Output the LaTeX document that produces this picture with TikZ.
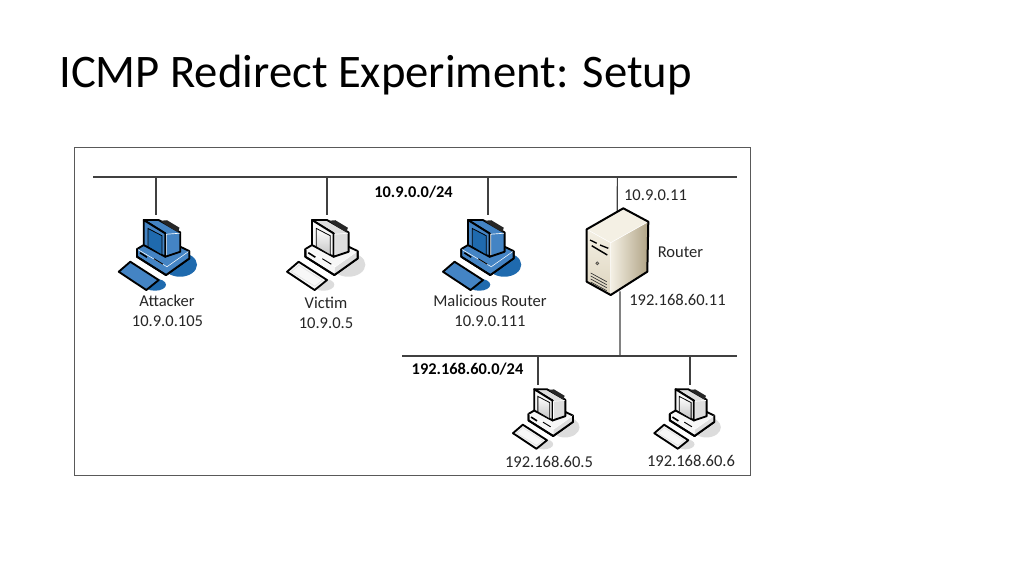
\documentclass[tikz,border=0pt]{standalone}
\usepackage{fontspec}
\setmainfont{Carlito}
\definecolor{pcblue}{HTML}{4484C4}
\definecolor{pcbluedark}{HTML}{1F6AAE}
\definecolor{pcwhite}{HTML}{F7F7F7}
\definecolor{pcgrey}{HTML}{C4C4C4}
\definecolor{pcside}{HTML}{DEDEDE}
\definecolor{pcshadow}{HTML}{DCDCDC}
\definecolor{towerlight}{HTML}{F4F0E4}
\definecolor{towermid}{HTML}{DDD4BE}
\definecolor{towerdark}{HTML}{B0A385}
\definecolor{labelgrey}{HTML}{262626}
\tikzset{
	pics/computer/.style n args={4}{code={
		\fill[#4] (24,50) ellipse [x radius=17, y radius=12];
		\fill[#4] (-1,70) ellipse [x radius=11, y radius=6];
		% base
		\draw[pcline, fill=#2] (-19,34.3) -- (-12.3,30.3) -- (24.3,32) -- (33.3,36.3) -- (33.3,43.7) -- (10,60.3) -- (-19,42) -- cycle;
		\fill[#3] (11,52) -- (33.3,36.3) -- (33.3,43.7) -- (10,60.3) -- cycle;
		\draw[thin, white] (-19,34.3) -- (11,52) -- (33.3,36.3);
		\draw[black, line width=.7pt] (-2,44) -- (7,49.5);
		\draw[black, line width=1.2pt] (-16,38) -- (-9,42.5);
		\draw[pcline] (-19,34.3) -- (-19,42) -- (10,60.3) -- (33.3,43.7) -- (33.3,36.3);
		% monitor
		\draw[pcline, fill=#3] (-12.3,5.3) -- (2.7,5.3) -- (24.3,17.7) -- (24.3,37) -- (9.3,42) -- (9.3,18.7) -- cycle;
		\fill[black!85] (4.3,6) -- (11,5.5) -- (23.5,13) -- (22,17.5) -- (12.7,12) -- cycle;
		\draw[pcline, fill=#2] (-12.3,5.3) -- (9.3,18.7) -- (9.3,42) -- (-12.3,30.3) -- cycle;
		\draw[white, line width=.5pt] (10.4,19.5) -- (10.4,40.5) (10.4,19.5) -- (23.5,18.5);
		\draw[black, line width=.6pt, #1] (-8,13.7) -- (6,21) -- (6,40.3) -- (-8,32) -- cycle;
		% keyboard
		\draw[pcline, fill=#2] (-37.3,57) -- (-25.7,47) -- (2.7,65.3) -- (-9.7,75.3) -- cycle;
		\draw[#3, line width=.4pt] (-33,57) -- (-25.5,50.5) -- (-2,65.5) -- (-9.5,71.5) -- cycle;
	}},
	pcline/.style = {line width=1.4pt, draw=black, line join=round},
	pcnode/.style = {minimum width=60pt, minimum height=57pt, inner sep=0pt},
	link/.style = {line width=.8pt, draw=black!75},
	label/.style = {text=labelgrey, font=\fontsize{12.4}{14}\selectfont, inner sep=0pt},
	netlabel/.style = {text=black, font=\fontsize{12.3}{14}\selectfont\bfseries, inner sep=0pt},
}
\begin{document}
\begin{tikzpicture}[x=.75pt,y=-.75pt]
	\useasboundingbox (0,0) rectangle (1024,576);
	\fill[white] (0,0) rectangle (1024,576);
	\node (title) at (375.5,75) [text=black, font=\fontsize{35}{42}\selectfont, inner sep=0pt] {ICMP Redirect Experiment: Setup};
	\node (frame) at (412.5,311.5) [draw=black!65, line width=.8pt, minimum width=507.5pt, minimum height=246.5pt, inner sep=0pt] {};

	% networks
	\coordinate (A0) at (93,177);
	\coordinate (A1) at (156,177);
	\coordinate (A2) at (327,177);
	\coordinate (A3) at (488,177);
	\coordinate (A4) at (617.3,177);
	\coordinate (A5) at (737,177);
	\coordinate (B0) at (402,356);
	\coordinate (B1) at (538,356);
	\coordinate (B2) at (620,356);
	\coordinate (B3) at (690,356);
	\coordinate (B4) at (737,356);

	\node (PC1) at (156,253) [pcnode] {};
	\node (PC2) at (327,253) [pcnode] {};
	\node (PC3) at (488,253) [pcnode] {};
	\node (PC4) at (538,423) [pcnode] {};
	\node (PC5) at (690,423) [pcnode] {};
	\node (R1) at (618.6,251.5) [minimum width=46.5pt, minimum height=59.5pt, inner sep=0pt] {};

	\draw[link] (A0) -- (A5);
	\draw[link] (B0) -- (B4);
	\draw[link] (A1) -- (PC1.north);
	\draw[link] (A2) -- (PC2.north);
	\draw[link] (A3) -- (PC3.north);
	\draw[link] (A4) -- (R1.92);
	\draw[link] (B2) -- (R1.272);
	\draw[link] (B1) -- (PC4.north);
	\draw[link] (B3) -- (PC5.north);

	% computers
	\pic at (PC1.north) {computer={fill=pcbluedark}{pcblue}{pcblue}{pcbluedark}};
	\pic[xshift=-2pt] at (PC2.north) {computer={top color=white, bottom color=pcgrey}{pcwhite}{pcside}{pcshadow}};
	\pic[xshift=-5.8pt] at (PC3.north) {computer={fill=pcbluedark}{pcblue}{pcblue}{pcbluedark}};
	\pic[xshift=5pt,scale=.85] at (PC4.north) {computer={top color=white, bottom color=pcgrey}{pcwhite}{pcside}{pcshadow}};
	\pic[xshift=-3pt,scale=.85] at (PC5.north) {computer={top color=white, bottom color=pcgrey}{pcwhite}{pcside}{pcshadow}};

	% router
	\shade[left color=towerlight, right color=towerdark] (610.7,242.7) -- (648.3,221.7) -- (647.3,271.7) -- (610.7,295) -- cycle;
	\shade[top color=towerlight, bottom color=towermid] (586.7,229.3) -- (610.7,242.7) -- (610.7,295) -- (586.7,281.7) -- cycle;
	\fill[towerlight] (586.7,229.3) -- (623.3,208.3) -- (648.3,221.7) -- (610.7,242.7) -- cycle;
	\draw[white, line width=.4pt] (586.7,229.3) -- (610.7,242.7) -- (648.3,221.7) (610.7,242.7) -- (610.7,295);
	\draw[pcline, line width=1.5pt] (586.7,229.3) -- (623.3,208.3) -- (648.3,221.7) -- (647.3,271.7) -- (610.7,295) -- (586.7,281.7) -- cycle;
	\draw[black, line width=1pt] (590,240) -- (596.7,243.3) (600,245) -- (608.3,248.3);
	\draw[black, line width=1.1pt] (591.7,245.7) -- (607.3,255);
	\draw[black!70, fill=towerdark, line width=.5pt] (597.3,263.3) circle (1.5);
	\foreach \k in {0,1,2,3} {
		\draw[black!80, line width=.5pt] (590.7,{273+\k*3}) -- (606.7,{281.7+\k*3});
	}

	% labels
	\node (L1) at (167,301) [label] {Attacker};
	\node (L2) at (167.5,321.5) [label] {10.9.0.105};
	\node (L3) at (326,303) [label] {Victim};
	\node (L4) at (326,323) [label] {10.9.0.5};
	\node (L5) at (490,301) [label] {Malicious Router};
	\node (L6) at (490,321.5) [label] {10.9.0.111};
	\node (L7) at (655.5,195) [label] {10.9.0.11};
	\node (L8) at (680.5,252.5) [label] {Router};
	\node (L9) at (677.5,299.5) [label] {192.168.60.11};
	\node (L10) at (549,462) [label] {192.168.60.5};
	\node (L11) at (691,460.5) [label] {192.168.60.6};
	\node (N1) at (413.5,192) [netlabel] {10.9.0.0/24};
	\node (N2) at (467.5,369) [netlabel] {192.168.60.0/24};
\end{tikzpicture}
\end{document}
